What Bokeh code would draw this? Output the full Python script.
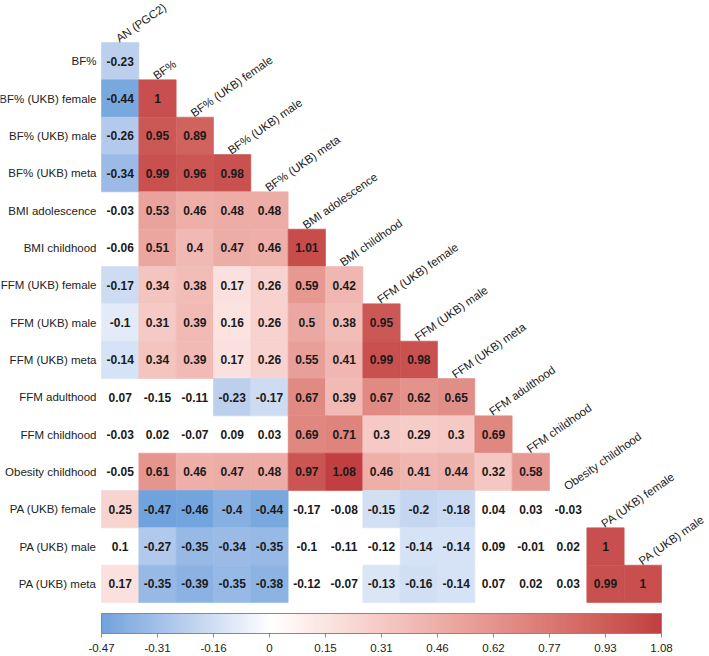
import numpy as np
from bokeh.plotting import figure
from bokeh.models import ColumnDataSource, Range1d, LinearColorMapper, ColorBar, FixedTicker
from bokeh.transform import transform
from bokeh.core.properties import value
from bokeh.embed import file_html
from bokeh.resources import INLINE

# ---------------- data ----------------
row_labels = ["BF%", "BF% (UKB) female", "BF% (UKB) male", "BF% (UKB) meta",
              "BMI adolescence", "BMI childhood", "FFM (UKB) female", "FFM (UKB) male",
              "FFM (UKB) meta", "FFM adulthood", "FFM childhood", "Obesity childhood",
              "PA (UKB) female", "PA (UKB) male", "PA (UKB) meta"]
col_labels = ["AN (PGC2)", "BF%", "BF% (UKB) female", "BF% (UKB) male", "BF% (UKB) meta",
              "BMI adolescence", "BMI childhood", "FFM (UKB) female", "FFM (UKB) male",
              "FFM (UKB) meta", "FFM adulthood", "FFM childhood", "Obesity childhood",
              "PA (UKB) female", "PA (UKB) male"]

r_bf = [-0.23]
r_bf_f = [-0.44, 1]
r_bf_m = [-0.26, 0.95, 0.89]
r_bf_meta = [-0.34, 0.99, 0.96, 0.98]
r_bmi_adol = [-0.03, 0.53, 0.46, 0.48, 0.48]
r_bmi_child = [-0.06, 0.51, 0.4, 0.47, 0.46, 1.01]
r_ffm_f = [-0.17, 0.34, 0.38, 0.17, 0.26, 0.59, 0.42]
r_ffm_m = [-0.1, 0.31, 0.39, 0.16, 0.26, 0.5, 0.38, 0.95]
r_ffm_meta = [-0.14, 0.34, 0.39, 0.17, 0.26, 0.55, 0.41, 0.99, 0.98]
r_ffm_adult = [0.07, -0.15, -0.11, -0.23, -0.17, 0.67, 0.39, 0.67, 0.62, 0.65]
r_ffm_child = [-0.03, 0.02, -0.07, 0.09, 0.03, 0.69, 0.71, 0.3, 0.29, 0.3, 0.69]
r_ob_child = [-0.05, 0.61, 0.46, 0.47, 0.48, 0.97, 1.08, 0.46, 0.41, 0.44, 0.32, 0.58]
r_pa_f = [0.25, -0.47, -0.46, -0.4, -0.44, -0.17, -0.08, -0.15, -0.2, -0.18, 0.04, 0.03, -0.03]
r_pa_m = [0.1, -0.27, -0.35, -0.34, -0.35, -0.1, -0.11, -0.12, -0.14, -0.14, 0.09, -0.01, 0.02, 1]
r_pa_meta = [0.17, -0.35, -0.39, -0.35, -0.38, -0.12, -0.07, -0.13, -0.16, -0.14, 0.07, 0.02, 0.03, 0.99, 1]

# 1 = significant (coloured cell), 0 = not significant (white cell)
sig_masks = ["1", "11", "111", "1111", "01111", "011111", "1111111", "11111111",
             "111111111", "0001111111", "00000111111", "011111111111",
             "1111100111000", "01111000110001", "111110011100011"]

value_rows = [r_bf, r_bf_f, r_bf_m, r_bf_meta, r_bmi_adol, r_bmi_child, r_ffm_f, r_ffm_m,
              r_ffm_meta, r_ffm_adult, r_ffm_child, r_ob_child, r_pa_f, r_pa_m, r_pa_meta]

cbar_low, cbar_high = -0.47, 1.08
cbar_labels = ["-0.47", "-0.31", "-0.16", "0", "0.15", "0.31", "0.46", "0.62", "0.77", "0.93", "1.08"]

# ---------------- colours (Lab interpolation blue - white - red) ----------------
def _lin(c):
    c = c / 255.0
    return c / 12.92 if c <= 0.04045 else ((c + 0.055) / 1.055) ** 2.4

def _gam(c):
    c = 12.92 * c if c <= 0.0031308 else 1.055 * max(c, 0) ** (1 / 2.4) - 0.055
    return int(round(min(max(c, 0), 1) * 255))

def hex2lab(h):
    r, g, b = [_lin(int(h[i:i + 2], 16)) for i in (1, 3, 5)]
    X = (0.4124 * r + 0.3576 * g + 0.1805 * b) / 0.95047
    Y = (0.2126 * r + 0.7152 * g + 0.0722 * b)
    Z = (0.0193 * r + 0.1192 * g + 0.9505 * b) / 1.08883
    f = lambda t: t ** (1 / 3) if t > 0.008856 else 7.787 * t + 16 / 116
    fx, fy, fz = f(X), f(Y), f(Z)
    return np.array([116 * fy - 16, 500 * (fx - fy), 200 * (fy - fz)])

def lab2hex(lab):
    L, a, b = lab
    fy = (L + 16) / 116
    fx = fy + a / 500
    fz = fy - b / 200
    fi = lambda t: t ** 3 if t ** 3 > 0.008856 else (t - 16 / 116) / 7.787
    X, Y, Z = fi(fx) * 0.95047, fi(fy), fi(fz) * 1.08883
    r = 3.2406 * X - 1.5372 * Y - 0.4986 * Z
    g = -0.9689 * X + 1.8758 * Y + 0.0415 * Z
    bb = 0.0557 * X - 0.2040 * Y + 1.0570 * Z
    return "#%02x%02x%02x" % (_gam(r), _gam(g), _gam(bb))

lab_lo, lab_mid, lab_hi = hex2lab("#70A3DD"), hex2lab("#FFFFFF"), hex2lab("#C13F41")
palette = []
for v in np.linspace(cbar_low, cbar_high, 256):
    if v < 0:
        palette.append(lab2hex(lab_mid + (lab_lo - lab_mid) * (v / cbar_low)))
    else:
        palette.append(lab2hex(lab_mid + (lab_hi - lab_mid) * (v / cbar_high)))
mapper = LinearColorMapper(palette=palette, low=cbar_low, high=cbar_high)

# ---------------- layout ----------------
W, H = 709, 656
n = len(col_labels)
GRID_L, GRID_T, GRID_W = 101, 42, 560
S = GRID_W / n

p = figure(width=W, height=H, output_backend="svg", toolbar_location=None,
           x_range=Range1d(-GRID_L / S, (W - GRID_L) / S),
           y_range=Range1d((H - GRID_T) / S, -GRID_T / S),
           x_axis_location=None, y_axis_location=None,
           min_border=0, background_fill_color="white", border_fill_color="white")
p.outline_line_color = None
p.grid.visible = False

xs, ys, vals, txt, sig = [], [], [], [], []
for r, (vr, m) in enumerate(zip(value_rows, sig_masks)):
    for c, v in enumerate(vr):
        xs.append(c + 0.5)
        ys.append(r + 0.5)
        vals.append(v)
        txt.append(f"{v:g}")
        sig.append(m[c] == "1")
sig = np.array(sig)
src_all = ColumnDataSource(dict(x=xs, y=ys, v=vals, t=txt))
src_sig = ColumnDataSource(dict(x=np.array(xs)[sig], y=np.array(ys)[sig], v=np.array(vals)[sig]))

p.rect(x="x", y="y", width=1, height=1, source=src_sig,
       fill_color=transform("v", mapper), line_color=transform("v", mapper), line_width=0.6)

FONT = "Liberation Sans"
p.text(x="x", y="y", text="t", source=src_all, text_font=value(FONT), text_font_size="12px",
       text_font_style="bold", text_color="#1a1a1a", text_align="center", text_baseline="middle")

# row labels
p.text(x=[0] * len(row_labels), y=[i + 0.5 for i in range(len(row_labels))], text=row_labels,
       x_offset=-5, text_font=value(FONT), text_font_size="11.5px", text_color="#222222",
       text_align="right", text_baseline="middle")

# column labels (rotated, above the diagonal)
p.text(x=[i + 0.5 for i in range(n)], y=[i for i in range(n)], text=col_labels,
       y_offset=-3, x_offset=-3, angle=35, angle_units="deg", text_font=value(FONT),
       text_font_size="11.5px", text_color="#222222", text_align="left",
       text_baseline="alphabetic")

ticks = list(np.linspace(cbar_low, cbar_high, len(cbar_labels)))
cb = ColorBar(color_mapper=mapper, orientation="horizontal", width=GRID_W, height=20,
              location=(GRID_L, 2), padding=0, margin=0,
              ticker=FixedTicker(ticks=ticks),
              major_label_overrides={t: l for t, l in zip(ticks, cbar_labels)},
              major_tick_out=4, major_tick_in=0, major_tick_line_color="#888888",
              minor_tick_line_color=None, bar_line_color="#888888",
              label_standoff=6, major_label_text_font=FONT,
              major_label_text_font_size="11.5px", major_label_text_color="#222222",
              background_fill_alpha=0, border_line_color=None)
p.add_layout(cb, "center")

open("out.html", "w").write(file_html(p, INLINE))
